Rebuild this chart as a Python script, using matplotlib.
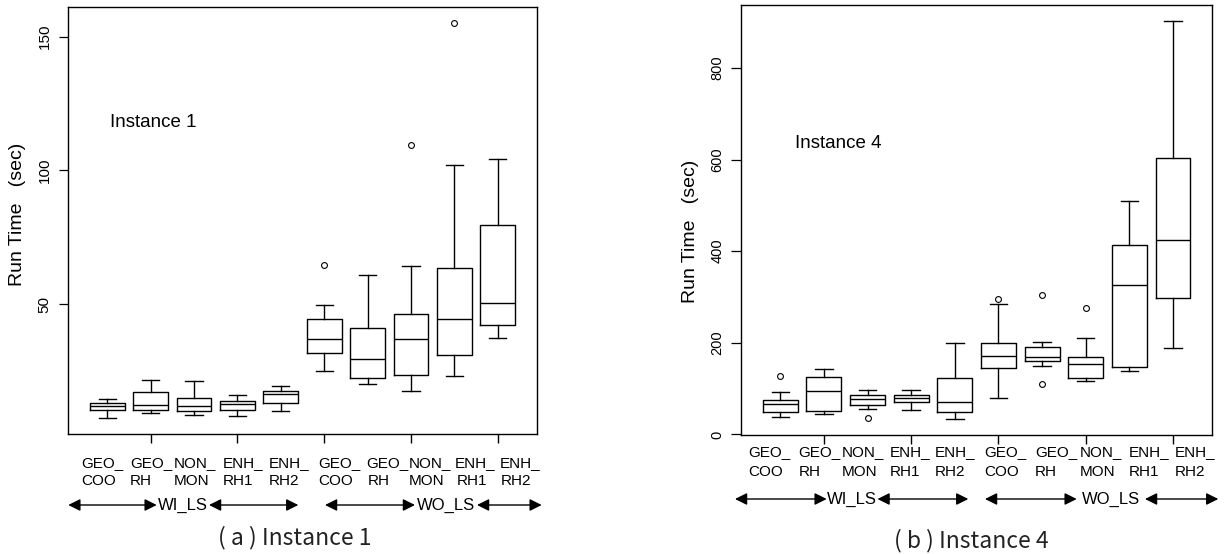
import matplotlib
matplotlib.use("Agg")
import matplotlib.pyplot as plt
from matplotlib.patches import FancyArrowPatch

# ---------------- data ----------------
row1_labels = ["GEO_", "GEO_", "NON_", "ENH_", "ENH_", "GEO_", "GEO_", "NON_", "ENH_", "ENH_"]
row2_labels = ["COO", "RH", "MON", "RH1", "RH2", "COO", "RH", "MON", "RH1", "RH2"]
group_labels = ["WI_LS", "WO_LS"]
ylabel = "Run Time   (sec)"

# Instance 1
inst1_whislo = [7.2, 9.1, 8.4, 8.2, 9.9, 25.1, 20.1, 17.4, 23.1, 37.3]
inst1_q1 = [10.2, 10.2, 9.9, 10.5, 13.0, 31.7, 22.4, 23.3, 30.8, 42.2]
inst1_med = [12.0, 12.1, 11.9, 12.5, 16.5, 37.1, 29.5, 37.1, 44.3, 50.3]
inst1_q3 = [13.0, 17.0, 15.0, 13.6, 17.6, 44.4, 41.2, 46.2, 63.6, 79.5]
inst1_whishi = [14.6, 21.6, 21.2, 16.1, 19.2, 49.5, 60.8, 64.3, 102.1, 104.1]
inst1_fliers = [[], [], [], [], [], [64.6], [], [109.5], [155.1], []]
inst1_yticks = [50, 100, 150]

# Instance 4
inst4_whislo = [37.0, 43.6, 54.5, 53.0, 33.4, 79.1, 148.9, 116.2, 138.7, 189.6]
inst4_q1 = [48.6, 50.1, 63.9, 71.1, 49.3, 144.5, 159.8, 123.4, 147.4, 297.8]
inst4_med = [66.8, 95.0, 76.3, 79.1, 71.1, 170.0, 169.6, 153.2, 325.4, 425.0]
inst4_q3 = [74.8, 124.2, 85.7, 85.7, 122.7, 199.7, 191.0, 169.2, 413.3, 603.8]
inst4_whishi = [92.9, 143.0, 96.6, 96.6, 198.4, 284.0, 202.7, 211.4, 510.1, 902.5]
inst4_fliers = [[127.0], [], [36.2], [], [], [296.4], [303.6, 109.0], [276.8], [], []]
inst4_yticks = [0, 200, 400, 600, 800]

# ---------------- figure ----------------
W, H = 1224, 554
fig = plt.figure(figsize=(W / 100, H / 100), dpi=100)
plt.rcParams['font.family'] = ['Liberation Sans', 'DejaVu Sans']


def fx(x):
    return x / W


def fy(y):
    return 1 - y / H


def stats(whislo, q1, med, q3, whishi, fliers):
    return [dict(whislo=a, q1=b, med=c, q3=d, whishi=e, fliers=f)
            for a, b, c, d, e, f in zip(whislo, q1, med, q3, whishi, fliers)]


def panel(rect, st, yticks, tick_fs, tick_len, tick_pad, inst_text, inst_xy,
          ylab_xy, data_min, data_max):
    ax = fig.add_axes(rect)
    n = len(st)
    pos = list(range(1, n + 1))
    ax.bxp(st, positions=pos, widths=0.8, capwidths=0.4, showfliers=True,
           boxprops=dict(color='black', lw=1.0),
           medianprops=dict(color='black', lw=1.0),
           whiskerprops=dict(color='black', lw=1.0, ls='-'),
           capprops=dict(color='black', lw=1.0),
           flierprops=dict(marker='o', markersize=4.2, markerfacecolor='none',
                           markeredgecolor='black', markeredgewidth=0.8))
    r = data_max - data_min
    ax.set_ylim(data_min - 0.04 * r, data_max + 0.04 * r)
    ax.set_xlim(0.1, n + 0.9)
    ax.set_yticks(yticks)
    ax.set_yticklabels([str(t) for t in yticks])
    ax.tick_params(axis='y', labelrotation=90, labelsize=tick_fs,
                   length=tick_len, pad=tick_pad, width=0.9)
    for lab in ax.get_yticklabels():
        lab.set_va('center')
    ax.set_xticks(pos[1::2])
    ax.set_xticklabels([])
    ax.tick_params(axis='x', length=6.5, width=1.0)
    for s in ax.spines.values():
        s.set_linewidth(1.0)
    ax.text(inst_xy[0], inst_xy[1], inst_text, fontsize=13.5, ha='left', va='center')
    ax.set_ylabel(ylabel, fontsize=14, va='center')
    ax.yaxis.set_label_coords(*ylab_xy)
    return ax


s1 = stats(inst1_whislo, inst1_q1, inst1_med, inst1_q3, inst1_whishi, inst1_fliers)
s4 = stats(inst4_whislo, inst4_q1, inst4_med, inst4_q3, inst4_whishi, inst4_fliers)

ax1 = panel([fx(68.3), fy(434.3), (536.7 - 68.3) / W, (434.3 - 7.3) / H], s1,
            inst1_yticks, 11, 6.5, 5.5, "Instance 1", (1.07, 118),
            (-0.1095, 0.515),
            min(min(inst1_whislo), min(sum(inst1_fliers, []))),
            max(max(inst1_whishi), max(sum(inst1_fliers, []))))
ax4 = panel([fx(741.0), fy(435.0), (1212.3 - 741.0) / W, (435.0 - 5.0) / H], s4,
            inst4_yticks, 10.5, 7.2, 4.5, "Instance 4", (1.33, 636),
            (-0.108, 0.474),
            min(min(inst4_whislo), min(sum(inst4_fliers, []))),
            max(max(inst4_whishi), max(sum(inst4_fliers, []))))

# ---------------- category labels below the axes ----------------
left_x1 = [81.7, 130, 173.3, 222.3, 268.3, 318.3, 366.7, 408.3, 455, 500]
left_x2 = [81.7, 130, 173.3, 222.3, 268.3, 318.3, 368, 409, 456.7, 500.7]
right_x1 = [748.3, 798.3, 841.7, 890, 935, 984, 1035, 1080, 1128.3, 1175]
right_x2 = [748.3, 798.3, 841.7, 889.3, 935, 984, 1035, 1080, 1128.3, 1175]


def labels(xs1, xs2, y1, y2):
    for x, t in zip(xs1, row1_labels):
        fig.text(fx(x), fy(y1), t, fontsize=11, ha='left', va='center')
    for x, t in zip(xs2, row2_labels):
        fig.text(fx(x), fy(y2), t, fontsize=11, ha='left', va='center')


labels(left_x1, left_x2, 462.7, 481)
labels(right_x1, right_x2, 451.7, 471.7)


def arrow(x1, x2, y):
    fig.add_artist(FancyArrowPatch((fx(x1), fy(y)), (fx(x2), fy(y)),
                                   transform=fig.transFigure,
                                   arrowstyle='<|-|>,head_length=0.6,head_width=0.3',
                                   mutation_scale=12, lw=1.0, color='black',
                                   shrinkA=0, shrinkB=0))


def group_row(segs, y):
    # segs: (arrow_start, text_start, text_end, arrow_end) for each group
    for (a0, t0, t1, a1), g in zip(segs, group_labels):
        arrow(a0, t0, y)
        fig.text(fx((t0 + t1) / 2), fy(y), g, fontsize=12, ha='center', va='center')
        arrow(t1, a1, y)


group_row([(68.3, 156.7, 209, 298.3), (325, 415, 477, 541.7)], 505)
group_row([(735, 826.7, 877.5, 968.3), (985, 1076.7, 1145, 1218.3)], 499)

# ---------------- captions ----------------
cap_font = ['Noto Sans CJK SC', 'DejaVu Sans']
fig.text(fx(295), fy(538), "( a ) Instance 1", fontsize=16.5, ha='center', va='center',
         family=cap_font, color='#222222')
fig.text(fx(971), fy(541), "( b ) Instance 4", fontsize=16.5, ha='center', va='center',
         family=cap_font, color='#222222')

fig.savefig("out.png", dpi=100)
